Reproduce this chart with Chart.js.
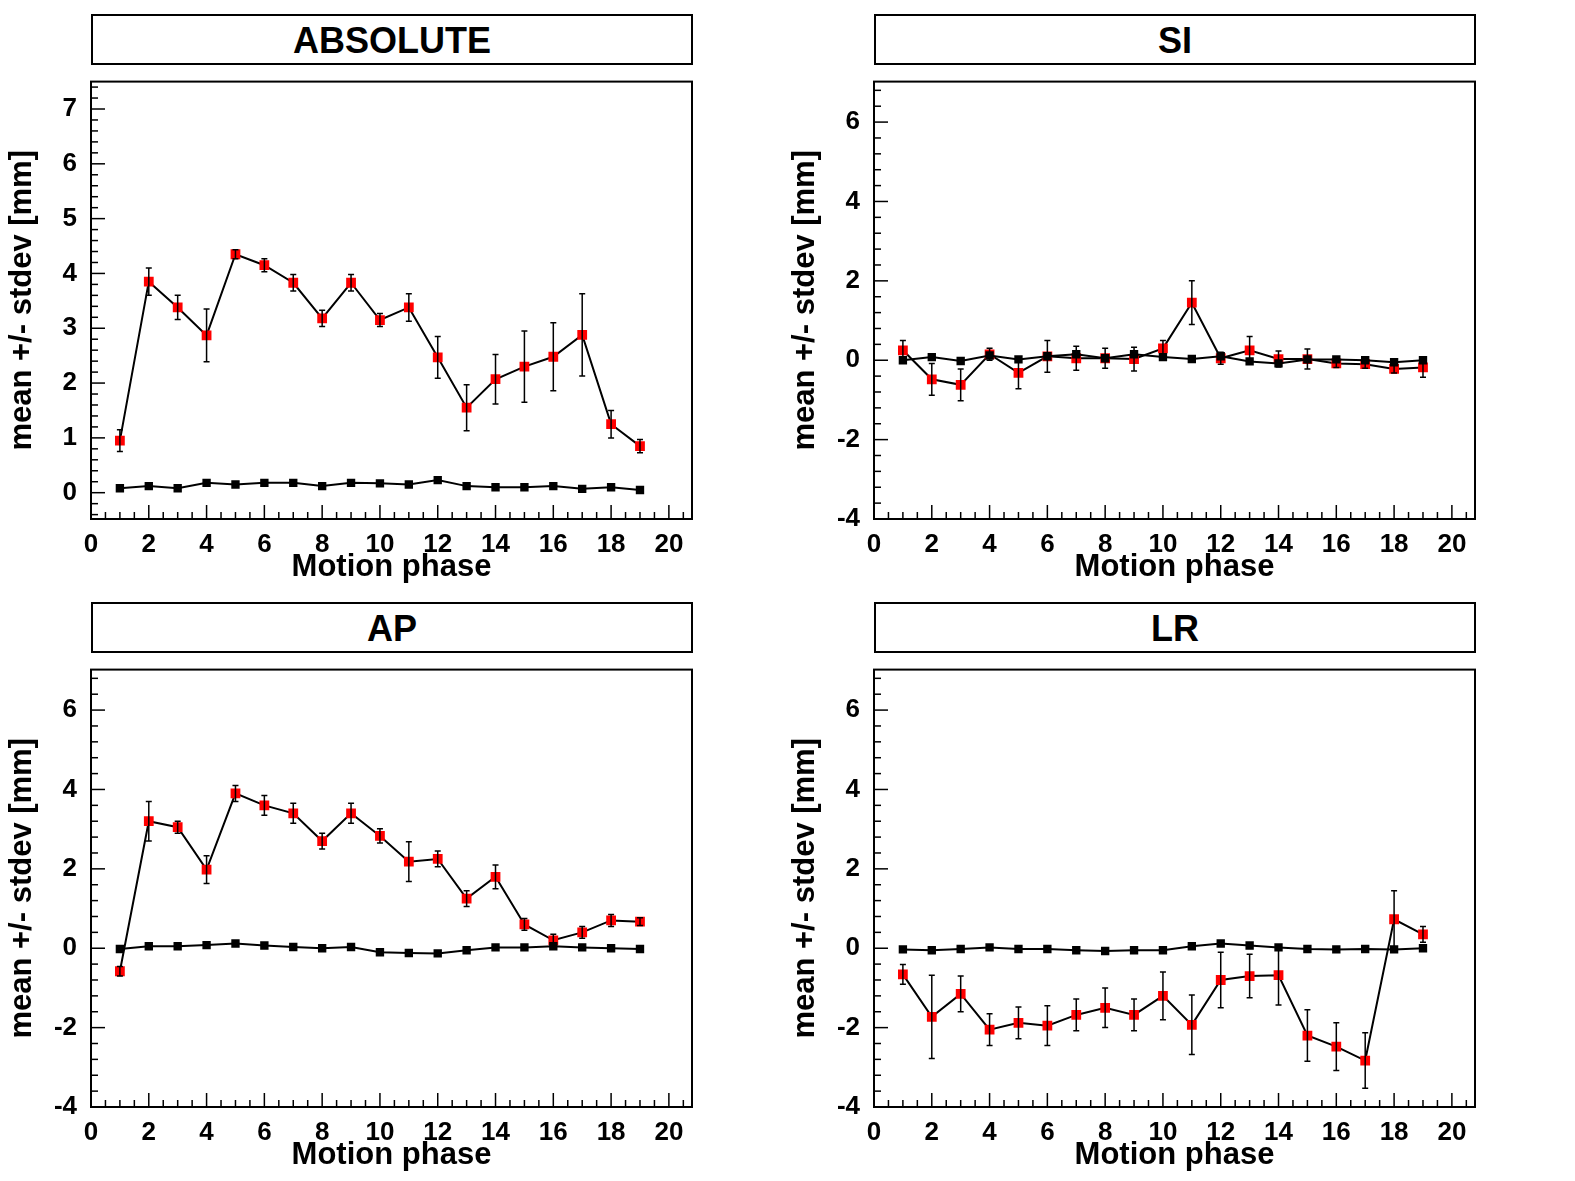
<!DOCTYPE html>
<html>
<head>
<meta charset="utf-8">
<script src="https://cdn.jsdelivr.net/npm/chart.js@4"></script>
<style>
  body { margin: 0; background: #fff; width: 1575px; height: 1181px; overflow: hidden; position: relative; }
  .title { position: absolute; width: 598px; height: 47px; border: 2px solid #000; box-sizing: content-box;
           font: bold 36px "Liberation Sans", Arial, sans-serif; text-align: center; line-height: 50px; }
  canvas { position: absolute; }
</style>
</head>
<body>
<script>
const phases = [1,2,3,4,5,6,7,8,9,10,11,12,13,14,15,16,17,18,19];
const xTicks = [0,2,4,6,8,10,12,14,16,18,20];
const absTicks = [0,1,2,3,4,5,6,7];
const dirTicks = [-4,-2,0,2,4,6];

const absRed = [0.95,3.85,3.38,2.87,4.35,4.15,3.83,3.18,3.83,3.15,3.38,2.47,1.55,2.07,2.3,2.48,2.88,1.25,0.85];
const absRedErr = [0.2,0.25,0.22,0.48,0.08,0.12,0.15,0.15,0.15,0.12,0.25,0.38,0.42,0.45,0.65,0.62,0.75,0.25,0.12];
const absBlack = [0.08,0.12,0.08,0.18,0.15,0.18,0.18,0.12,0.18,0.17,0.15,0.23,0.12,0.1,0.1,0.12,0.07,0.1,0.05];

const siRed = [0.25,-0.48,-0.62,0.15,-0.32,0.1,0.05,0.05,0.03,0.3,1.45,0.05,0.25,0.03,0.03,-0.08,-0.1,-0.22,-0.18];
const siRedErr = [0.25,0.4,0.4,0.15,0.4,0.4,0.3,0.25,0.3,0.2,0.55,0.15,0.35,0.2,0.25,0.1,0.1,0.1,0.25];
const siBlack = [0,0.08,-0.02,0.12,0.02,0.1,0.15,0.05,0.15,0.08,0.03,0.1,-0.03,-0.08,0.02,0.02,0,-0.05,0];

const apRed = [-0.58,3.2,3.05,1.98,3.9,3.6,3.4,2.7,3.4,2.83,2.18,2.25,1.25,1.8,0.6,0.2,0.4,0.7,0.67];
const apRedErr = [0.12,0.5,0.15,0.35,0.2,0.25,0.25,0.2,0.25,0.18,0.5,0.2,0.2,0.3,0.15,0.15,0.15,0.15,0.1];
const apBlack = [-0.02,0.05,0.05,0.08,0.12,0.07,0.03,0,0.03,-0.1,-0.12,-0.13,-0.05,0.02,0.02,0.05,0.02,0,-0.02];

const lrRed = [-0.66,-1.73,-1.15,-2.05,-1.88,-1.95,-1.68,-1.5,-1.68,-1.2,-1.93,-0.8,-0.7,-0.68,-2.2,-2.48,-2.83,0.73,0.35];
const lrRedErr = [0.25,1.05,0.45,0.4,0.4,0.5,0.4,0.5,0.4,0.6,0.75,0.7,0.55,0.75,0.65,0.6,0.7,0.72,0.2];
const lrBlack = [-0.03,-0.05,-0.02,0.02,-0.02,-0.02,-0.05,-0.07,-0.05,-0.05,0.05,0.12,0.07,0.02,-0.02,-0.03,-0.02,-0.03,0];

const FONT = '"Liberation Sans", Arial, sans-serif';

// frame, inside ticks and error bars, ROOT style
const rootStyle = {
    id: 'rootStyle',
    afterDatasetsDraw(chart, args, opts) {
        const c = chart.ctx, a = chart.chartArea;
        const xs = chart.scales.x, ys = chart.scales.y;
        c.save();
        c.strokeStyle = '#000';
        c.lineWidth = 1.5;
        chart.data.datasets.forEach((ds, di) => {
            if (!ds.errors) return;
            chart.getDatasetMeta(di).data.forEach((pt, i) => {
                const v = ds.data[i].y, e = ds.errors[i];
                const y1 = ys.getPixelForValue(v - e), y2 = ys.getPixelForValue(v + e);
                c.beginPath();
                c.moveTo(pt.x, y1); c.lineTo(pt.x, y2);
                c.moveTo(pt.x - 3, y1); c.lineTo(pt.x + 3, y1);
                c.moveTo(pt.x - 3, y2); c.lineTo(pt.x + 3, y2);
                c.stroke();
            });
        });
        // ticks
        c.lineWidth = 1.5;
        for (let v = 0; v <= 20.8; v += 0.5) {
            const px = xs.getPixelForValue(v);
            const len = (Math.abs(v % 2) < 1e-6) ? 14 : 7;
            c.beginPath(); c.moveTo(px, a.bottom); c.lineTo(px, a.bottom - len); c.stroke();
        }
        const step = opts.minor;
        for (let v = ys.min; v <= ys.max + 1e-6; v += step) {
            const r = Math.round(v / step) * step;
            const py = ys.getPixelForValue(r);
            const major = Math.abs(r / opts.major - Math.round(r / opts.major)) < 1e-6;
            c.beginPath(); c.moveTo(a.left, py); c.lineTo(a.left + (major ? 14 : 7), py); c.stroke();
        }
        c.lineWidth = 2;
        c.strokeRect(a.left, a.top, a.right - a.left, a.bottom - a.top);
        c.restore();
    }
};

function panel(left, top, title, red, redErr, black, ymin, ymax, yTicks, major, minor) {
    const t = document.createElement('div');
    t.className = 'title';
    t.style.left = (left + 91) + 'px';
    t.style.top = (top + 14) + 'px';
    t.textContent = title;
    document.body.appendChild(t);

    const cv = document.createElement('canvas');
    cv.style.left = left + 'px';
    cv.style.top = (top + 60) + 'px';
    cv.style.width = '710px';
    cv.style.height = '530px';
    document.body.appendChild(cv);

    const pts = arr => phases.map((p, i) => ({ x: p, y: arr[i] }));
    new Chart(cv.getContext('2d'), {
        type: 'line',
        data: {
            datasets: [
                { data: pts(black), borderColor: '#000', borderWidth: 2, pointStyle: 'rect',
                  pointRadius: 4.5, pointBackgroundColor: '#000', pointBorderColor: '#000', tension: 0 },
                { data: pts(red), errors: redErr, borderColor: '#000', borderWidth: 2, pointStyle: 'rect',
                  pointRadius: 5.5, pointBackgroundColor: '#ff0000', pointBorderColor: '#ff0000', tension: 0 }
            ]
        },
        options: {
            responsive: false,
            animation: false,
            layout: { padding: { top: 7, right: 18, left: 0, bottom: 0 } },
            plugins: { legend: { display: false }, tooltip: { enabled: false }, rootStyle: { major, minor } },
            scales: {
                x: {
                    type: 'linear', min: 0, max: 20.8,
                    afterBuildTicks: s => { s.ticks = xTicks.map(v => ({ value: v })); },
                    afterFit: s => { s.height = 71; },
                    grid: { display: false }, border: { display: false },
                    ticks: { color: '#000', font: { family: FONT, size: 26, weight: 'bold' }, padding: 2, maxRotation: 0 },
                    title: { display: true, text: 'Motion phase', color: '#000', padding: { top: -4 },
                             font: { family: FONT, size: 31, weight: 'bold' } }
                },
                y: {
                    min: ymin, max: ymax,
                    afterBuildTicks: s => { s.ticks = yTicks.map(v => ({ value: v })); },
                    afterFit: s => { s.width = 91; },
                    grid: { display: false }, border: { display: false },
                    ticks: { color: '#000', font: { family: FONT, size: 26, weight: 'bold' }, padding: 6 },
                    title: { display: true, text: 'mean +/- stdev [mm]', color: '#000', padding: { bottom: 0 },
                             font: { family: FONT, size: 31, weight: 'bold' } }
                }
            }
        },
        plugins: [rootStyle]
    });
}

panel(0, 0, 'ABSOLUTE', absRed, absRedErr, absBlack, -0.48, 7.5, absTicks, 1, 0.2);
panel(783, 0, 'SI', siRed, siRedErr, siBlack, -4, 7.02, dirTicks, 2, 0.4);
panel(0, 588, 'AP', apRed, apRedErr, apBlack, -4, 7.02, dirTicks, 2, 0.4);
panel(783, 588, 'LR', lrRed, lrRedErr, lrBlack, -4, 7.02, dirTicks, 2, 0.4);
</script>
</body>
</html>
